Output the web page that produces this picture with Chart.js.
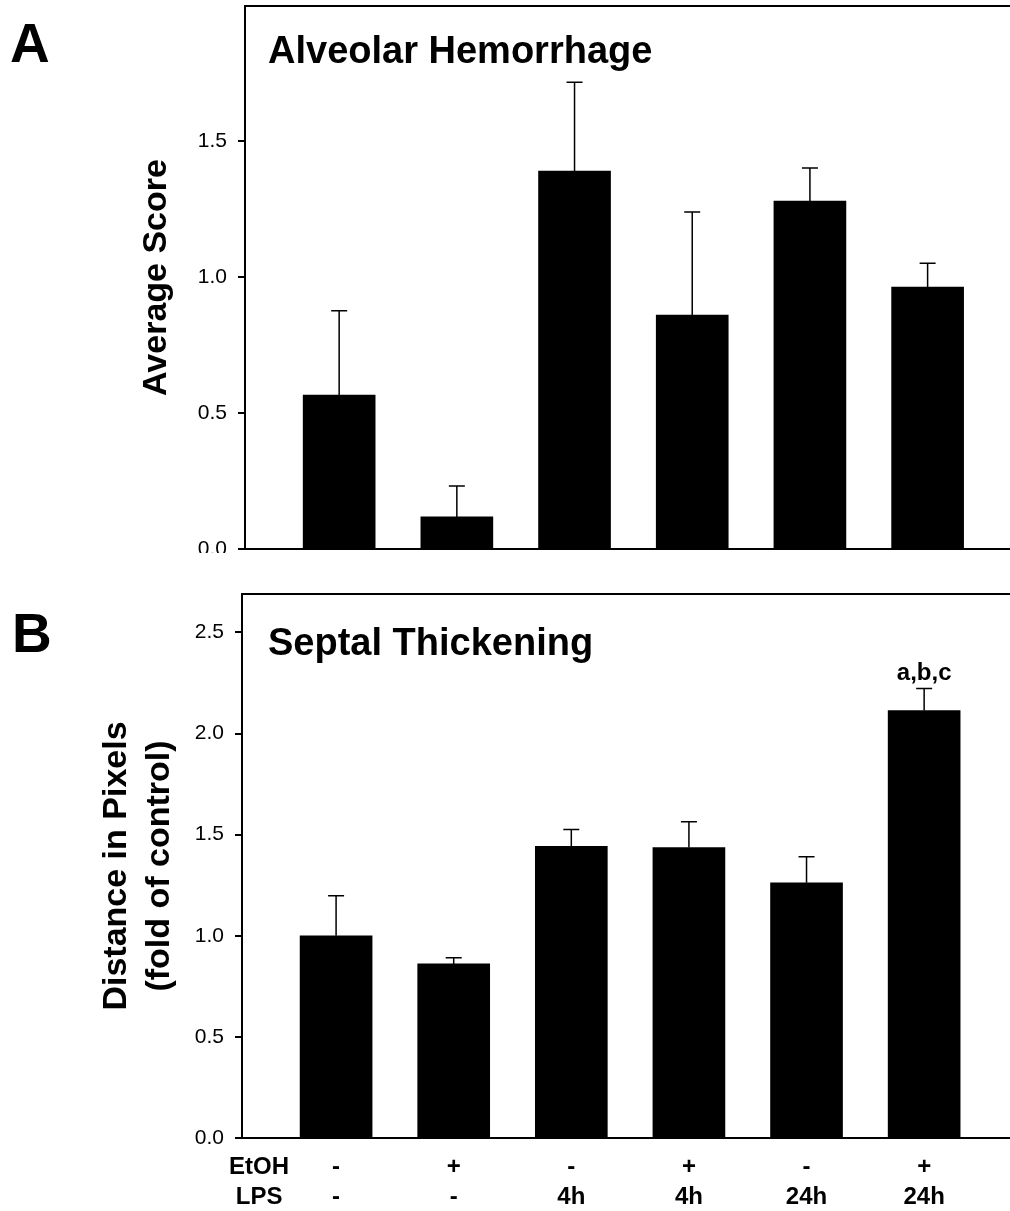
<!DOCTYPE html>
<html>
<head>
<meta charset="utf-8">
<script src="https://cdn.jsdelivr.net/npm/chart.js@4.4.1/dist/chart.umd.min.js"></script>
<style>
  body { margin: 0; background: #fff; overflow: hidden; }
  canvas { display: block; }
</style>
</head>
<body>
<canvas id="chartA" width="1010" height="553"></canvas>
<canvas id="chartB" width="1010" height="658"></canvas>
<script>
// groupes (EtOH / LPS) sous chaque barre
var rowHeads = ['EtOH', 'LPS'];
var etoh = ['-', '+', '-', '+', '-', '+'];
var lps = ['-', '-', '4h', '4h', '24h', '24h'];

// A : hémorragie alvéolaire (moyenne + erreur)
var hemMean = [0.566, 0.118, 1.39, 0.86, 1.28, 0.963];
var hemErr = [0.31, 0.114, 0.327, 0.379, 0.121, 0.088];

// B : épaississement septal
var septMean = [1.0, 0.861, 1.442, 1.436, 1.262, 2.114];
var septErr = [0.198, 0.03, 0.084, 0.128, 0.129, 0.109];
var septNotes = ['', '', '', '', '', 'a,b,c'];

Chart.defaults.font.family = '"Liberation Sans", Arial, sans-serif';
Chart.defaults.color = '#000';

// barres d'erreur (vers le haut seulement) + lettres de significativité
var errorBars = {
  id: 'errorBars',
  afterDatasetsDraw: function(chart) {
    var ctx = chart.ctx;
    var ds = chart.data.datasets[0];
    var y = chart.scales.y;
    ctx.save();
    ctx.strokeStyle = '#000';
    ctx.fillStyle = '#000';
    ctx.lineWidth = 1.5;
    chart.getDatasetMeta(0).data.forEach(function(bar, i) {
      var top = y.getPixelForValue(ds.data[i].y + ds.errors[i]);
      ctx.beginPath();
      ctx.moveTo(bar.x, bar.y);
      ctx.lineTo(bar.x, top);
      ctx.moveTo(bar.x - 8, top);
      ctx.lineTo(bar.x + 8, top);
      ctx.stroke();
      if (ds.notes && ds.notes[i]) {
        ctx.font = 'bold 24px "Liberation Sans", Arial';
        ctx.textAlign = 'center';
        ctx.textBaseline = 'alphabetic';
        ctx.fillText(ds.notes[i], bar.x, top - 8);
      }
    });
    ctx.restore();
  }
};

// lettre du panneau + titre dans le cadre
var panelText = {
  id: 'panelText',
  afterDraw: function(chart, args, opts) {
    var ctx = chart.ctx;
    ctx.save();
    ctx.fillStyle = '#000';
    ctx.textAlign = 'left';
    ctx.textBaseline = 'alphabetic';
    ctx.font = 'bold 55px "Liberation Sans", Arial';
    ctx.fillText(opts.letter, opts.letterX, opts.letterY);
    ctx.font = 'bold 38px "Liberation Sans", Arial';
    ctx.fillText(opts.title, opts.titleX, opts.titleY);
    ctx.restore();
  }
};

var black = { color: '#000', width: 2 };

var chartA = new Chart(document.getElementById('chartA'), {
  type: 'bar',
  data: {
    datasets: [{
      data: hemMean.map(function(v, i) { return { x: i + 1, y: v }; }),
      errors: hemErr,
      backgroundColor: '#000',
      barThickness: 72
    }]
  },
  options: {
    responsive: false,
    animation: false,
    layout: { padding: { left: 120, top: 6, bottom: 4, right: 0 } },
    plugins: {
      legend: { display: false },
      tooltip: { enabled: false },
      panelText: { letter: 'A', letterX: 10, letterY: 62, title: 'Alveolar Hemorrhage', titleX: 268, titleY: 63 }
    },
    scales: {
      x: {
        type: 'linear', min: 0.2, max: 6.7, bounds: 'data', offset: false,
        grid: { display: false, drawTicks: false },
        ticks: { display: false },
        border: black,
        afterFit: function(s) { s.height = 0; }
      },
      x2: {
        type: 'linear', position: 'top', min: 0.2, max: 6.7, bounds: 'data',
        grid: { display: false, drawTicks: false },
        ticks: { display: false },
        border: black
      },
      y: {
        min: 0, max: 1.997, bounds: 'data',
        ticks: {
          stepSize: 0.5, includeBounds: false, padding: 11,
          font: { size: 21 },
          callback: function(v) { return v.toFixed(1); }
        },
        grid: { drawOnChartArea: false, tickLength: 7, color: '#000', lineWidth: 2 },
        border: black,
        title: {
          display: true, text: 'Average Score',
          font: { size: 34, weight: 'bold', lineHeight: 1.2 },
          padding: { top: 16.6, bottom: 0 }
        },
        afterFit: function(s) { s.width = 125; s.paddingTop = 0; s.paddingBottom = 0; }
      }
    }
  },
  plugins: [errorBars, panelText]
});

var chartB = new Chart(document.getElementById('chartB'), {
  type: 'bar',
  data: {
    datasets: [{
      data: septMean.map(function(v, i) { return { x: i + 1, y: v }; }),
      errors: septErr,
      notes: septNotes,
      backgroundColor: '#000',
      barThickness: 72
    }]
  },
  options: {
    responsive: false,
    animation: false,
    layout: { padding: { left: 90, top: 41, bottom: 0, right: 0 } },
    plugins: {
      legend: { display: false },
      tooltip: { enabled: false },
      panelText: { letter: 'B', letterX: 12, letterY: 99, title: 'Septal Thickening', titleX: 268, titleY: 102 }
    },
    scales: {
      x: {
        type: 'linear', min: 0.2, max: 6.73, bounds: 'data', offset: false,
        grid: { display: false, drawTicks: false },
        border: black,
        afterBuildTicks: function(s) {
          s.ticks = [{ value: 0.345 }].concat(etoh.map(function(e, i) { return { value: i + 1 }; }));
        },
        ticks: {
          autoSkip: false, maxRotation: 0, minRotation: 0, padding: 14,
          font: { size: 24, weight: 'bold', lineHeight: 1.25 },
          callback: function(v, i) { return i === 0 ? rowHeads : [etoh[i - 1], lps[i - 1]]; }
        },
        afterFit: function(s) { s.height = 73; }
      },
      x2: {
        type: 'linear', position: 'top', min: 0.2, max: 6.73, bounds: 'data',
        grid: { display: false, drawTicks: false },
        ticks: { display: false },
        border: black
      },
      y: {
        min: 0, max: 2.69, bounds: 'data',
        ticks: {
          stepSize: 0.5, includeBounds: false, padding: 11,
          font: { size: 21 },
          callback: function(v) { return v.toFixed(1); }
        },
        grid: { drawOnChartArea: false, tickLength: 7, color: '#000', lineWidth: 2 },
        border: black,
        title: {
          display: true, text: ['Distance in Pixels', '(fold of control)'],
          font: { size: 34, weight: 'bold', lineHeight: 1.265 },
          padding: { top: 5.5, bottom: 0 }
        },
        afterFit: function(s) { s.width = 152; s.paddingTop = 0; s.paddingBottom = 0; }
      }
    }
  },
  plugins: [errorBars, panelText]
});
</script>
</body>
</html>
